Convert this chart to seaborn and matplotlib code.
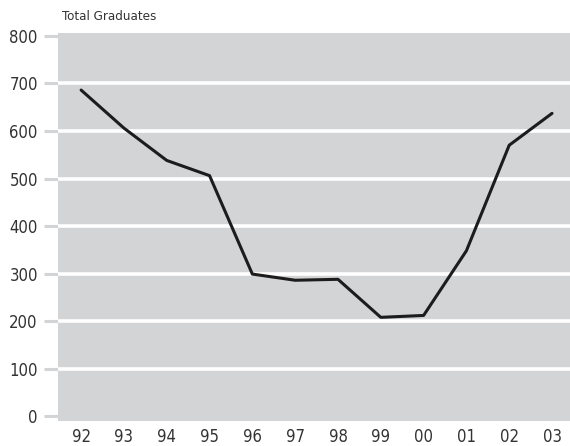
import matplotlib
matplotlib.use("Agg")
import matplotlib.pyplot as plt
import seaborn as sns
import pandas as pd

years = [1992, 1993, 1994, 1995, 1996, 1997, 1998, 1999, 2000, 2001, 2002, 2003]
year_labels = ["92", "93", "94", "95", "96", "97", "98", "99", "00", "01", "02", "03"]
graduates = [686, 606, 538, 506, 299, 286, 288, 208, 212, 348, 570, 637]
y_ticks = [0, 100, 200, 300, 400, 500, 600, 700, 800]

sns.set_theme(style="white")
plt.rcParams["font.family"] = ["DejaVu Sans"]
plt.rcParams["font.stretch"] = "condensed"

df = pd.DataFrame({"year": years, "graduates": graduates})

fig = plt.figure(figsize=(5.7, 4.46), dpi=100)
ax = fig.add_axes([58 / 570, 25 / 446, 1 - 58 / 570, (421 - 33) / 446])
bg = "#d3d4d6"
ax.set_facecolor(bg)

for v in y_ticks[1:-1]:
    ax.axhline(v, color="white", lw=2.6, zorder=1)

sns.lineplot(data=df, x="year", y="graduates", ax=ax, color="#1c1c1c", lw=2.2,
             zorder=3, legend=False)

ax.set_xlim(years[0] - 0.54, years[-1] + 0.42)
ax.set_ylim(-10, 806)
ax.set_xticks(years)
ax.set_xticklabels(year_labels)
ax.set_yticks(y_ticks)
ax.set_yticklabels([str(v) for v in y_ticks])
ax.set_xlabel("")
ax.set_ylabel("")
for s in ax.spines.values():
    s.set_visible(False)

ax.tick_params(axis="y", length=10, width=2.2, color=bg, pad=4.5,
               labelsize=12, labelcolor="#333333", left=True)
ax.tick_params(axis="x", length=0, pad=5, labelsize=12, labelcolor="#333333")

fig.text(62 / 570, 1 - 16 / 446, "Total Graduates", fontsize=9.5,
         color="#333333", ha="left", va="center")

fig.savefig("out.png", dpi=100)
